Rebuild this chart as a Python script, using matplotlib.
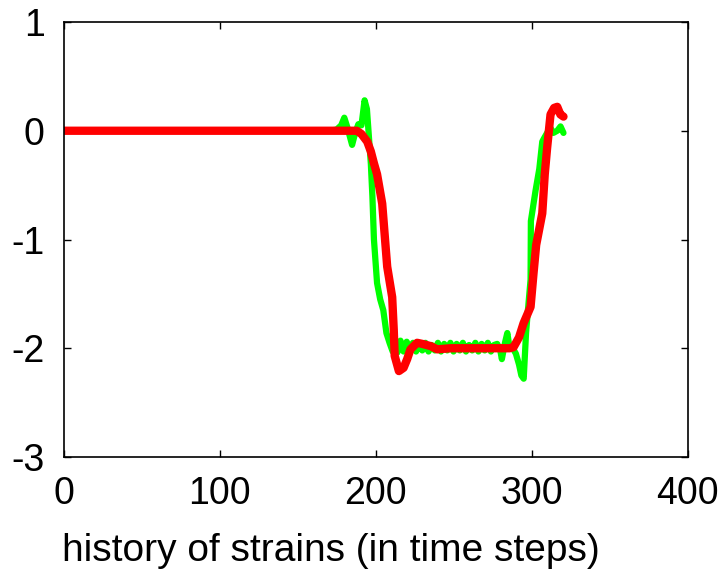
import matplotlib
matplotlib.use("Agg")
import matplotlib.pyplot as plt

# Green series (noisy)
green_x = [0, 170, 175, 178, 180, 182, 185, 187, 189, 191, 193, 194.5, 196, 197, 198, 199, 201, 203, 205, 207, 209, 211,
           212.5, 214, 216, 218, 220, 222, 224, 226, 228, 230, 232, 234, 236, 238, 240, 242, 244, 246, 248, 250,
           252, 254, 256, 258, 260, 262, 264, 266, 268, 270, 272, 274, 276, 278, 280, 281, 283, 284.5, 286, 288,
           290, 292, 293.5, 295, 296.5, 298, 299.4, 299.6, 302.6, 305, 306.9, 308, 310, 312, 314, 316.5, 318.6, 320.5]
green_y = [0, 0, 0.01, 0.05, 0.12, 0.03, -0.13, -0.02, 0.06, 0.05, 0.28, 0.2, -0.1, -0.3, -0.6, -1.0, -1.4, -1.55, -1.65, -1.86, -1.95, -2.03,
           -1.92, -2.04, -1.93, -2.03, -1.94, -2.02, -1.95, -2.03, -1.96, -2.02, -1.95, -2.03, -1.97, -2.02, -1.95, -2.03, -1.96, -2.02, -1.95, -2.03,
           -1.96, -2.02, -1.95, -2.03, -1.97, -2.02, -1.95, -2.03, -1.96, -2.02, -1.95, -2.03, -1.97, -1.96, -2.02, -2.1, -1.95, -1.86, -2.0, -2.0,
           -2.05, -2.15, -2.25, -2.28, -1.86, -1.6, -1.37, -0.83, -0.55, -0.35, -0.1, -0.07, -0.02, 0.03, -0.02, 0.0, 0.04, -0.02]

# Red series (smooth)
red_x = [0, 188, 191, 194.7, 197, 199, 201, 204.3, 207.5, 210.7, 211.7, 212.3, 215, 218, 220.3, 222.4, 226.7, 230, 235.3,
         239.6, 248, 260, 286, 288.5, 292, 294.9, 299.4, 301.3, 303, 306.9, 308.5, 310, 312.2, 314.5, 316.5, 318.5, 320.5]
red_y = [0, 0, -0.03, -0.1, -0.19, -0.3, -0.4, -0.67, -1.25, -1.53, -1.83, -2.07, -2.21, -2.18, -2.1, -2.01, -1.95, -1.96, -1.98,
         -2.01, -2.0, -2.0, -2.0, -1.99, -1.9, -1.77, -1.62, -1.31, -1.05, -0.76, -0.4, -0.16, 0.15, 0.21, 0.22, 0.15, 0.13]

x_ticks = [0, 100, 200, 300, 400]
y_ticks = [-3, -2, -1, 0, 1]
x_label = "history of strains (in time steps)"

plt.rcParams['font.family'] = ['Liberation Sans', 'DejaVu Sans']

fig = plt.figure(figsize=(7.25, 5.69), dpi=100)
W, H = 725, 569
left, right, top, bottom = 63.5, 687.5, 22, 457
ax = fig.add_axes([left / W, 1 - bottom / H, (right - left) / W, (bottom - top) / H])

ax.plot(green_x, green_y, color='#00ff00', lw=4.5, solid_joinstyle='round', solid_capstyle='round')
ax.plot(red_x, red_y, color='#ff0000', lw=6.0, solid_joinstyle='round', solid_capstyle='round')

ax.set_xlim(0, 400)
ax.set_ylim(-3, 1)
ax.set_xticks(x_ticks)
ax.set_yticks(y_ticks)
ax.set_xticklabels([str(t) for t in x_ticks])
ax.set_yticklabels([str(t) for t in y_ticks])
ax.tick_params(direction='in', length=5, width=1, top=True, right=True, labelsize=27)
ax.tick_params(axis='x', pad=13.5)
ax.tick_params(axis='y', pad=13.5)
for s in ax.spines.values():
    s.set_linewidth(1.2)
ax.set_xlabel(x_label, fontsize=28)
ax.xaxis.set_label_coords((331 - left) / (right - left), (bottom - 533) / (bottom - top))

fig.savefig("out.png", dpi=100)
